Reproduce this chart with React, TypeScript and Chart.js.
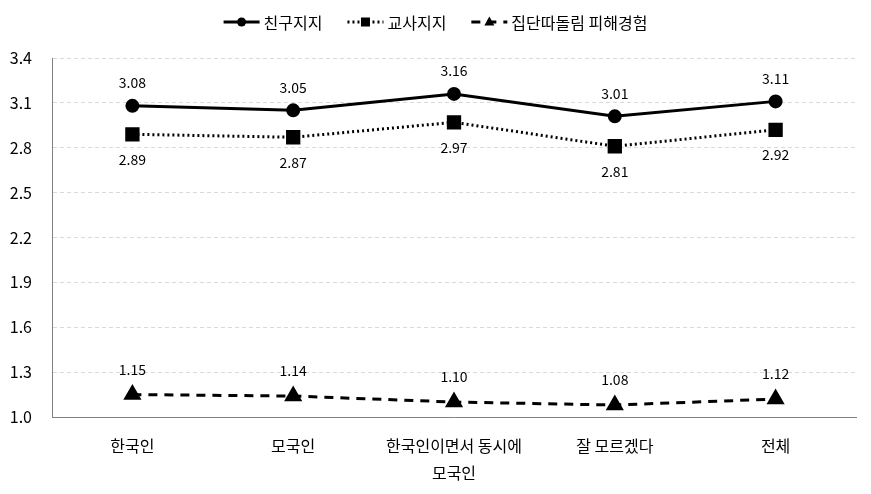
import React, { useEffect, useRef } from "react";
import { Chart, registerables } from "chart.js";

Chart.register(...registerables);

const categories: (string | string[])[] = ["한국인", "모국인", ["한국인이면서 동시에", "모국인"], "잘 모르겠다", "전체"];
const seriesNames = ["친구지지", "교사지지", "집단따돌림 피해경험"];
const friendSupport = [3.08, 3.05, 3.16, 3.01, 3.11];
const teacherSupport = [2.89, 2.87, 2.97, 2.81, 2.92];
const bullying = [1.15, 1.14, 1.1, 1.08, 1.12];
const yMin = 1.0;
const yMax = 3.4;
const yStep = 0.3;

const FONT = '"Noto Sans CJK KR", "Noto Sans", sans-serif';

const labelPlugin = {
  id: "valueLabels",
  afterDatasetsDraw(chart: any) {
    const ctx = chart.ctx;
    ctx.save();
    ctx.font = `14px ${FONT}`;
    ctx.fillStyle = "#000";
    ctx.textAlign = "center";
    ctx.textBaseline = "middle";
    chart.data.datasets.forEach((ds: any, i: number) => {
      const meta = chart.getDatasetMeta(i);
      const off = ds.labelOffset as number;
      meta.data.forEach((pt: any, j: number) => {
        ctx.fillText(Number(ds.data[j]).toFixed(2), pt.x, pt.y + off);
      });
    });
    ctx.restore();
  },
};

function drawMarker(ctx: CanvasRenderingContext2D, style: string, x: number, y: number, r: number) {
  ctx.beginPath();
  if (style === "circle") {
    ctx.arc(x, y, r, 0, Math.PI * 2);
  } else if (style === "rect") {
    ctx.rect(x - r, y - r, 2 * r, 2 * r);
  } else {
    ctx.moveTo(x, y - r * 1.1);
    ctx.lineTo(x + r, y + r * 0.7);
    ctx.lineTo(x - r, y + r * 0.7);
    ctx.closePath();
  }
  ctx.fill();
}

const legendPlugin = {
  id: "customLegend",
  afterDraw(chart: any) {
    const ctx = chart.ctx as CanvasRenderingContext2D;
    ctx.save();
    ctx.font = `16px ${FONT}`;
    const lineLen = 36;
    const gapText = 4;
    const gapItem = 25;
    const items = chart.data.datasets.map((ds: any) => ({
      label: ds.label,
      w: ctx.measureText(ds.label).width,
      ds,
    }));
    const total = items.reduce((s: number, it: any) => s + lineLen + gapText + it.w, 0) + gapItem * (items.length - 1);
    let x = chart.width / 2 - total / 2;
    const y = 22;
    items.forEach((it: any) => {
      const ds = it.ds;
      ctx.strokeStyle = "#000";
      ctx.fillStyle = "#000";
      ctx.lineWidth = ds.borderWidth;
      ctx.setLineDash(ds.borderDash || []);
      ctx.lineCap = ds.borderCapStyle || "butt";
      ctx.beginPath();
      ctx.moveTo(x, y);
      ctx.lineTo(x + lineLen, y);
      ctx.stroke();
      ctx.setLineDash([]);
      drawMarker(ctx, ds.pointStyle, x + lineLen / 2, y, ds.legendMarker);
      ctx.textAlign = "left";
      ctx.textBaseline = "middle";
      ctx.fillText(it.label, x + lineLen + gapText, y + 1);
      x += lineLen + gapText + it.w + gapItem;
    });
    ctx.restore();
  },
};

export default function App() {
  const ref = useRef<HTMLCanvasElement | null>(null);
  useEffect(() => {
    document.body.style.margin = "0";
    const canvas = ref.current!;
    const chart = new Chart(canvas, {
      type: "line",
      data: {
        labels: categories as any,
        datasets: [
          {
            label: seriesNames[0],
            data: friendSupport,
            borderColor: "#000",
            backgroundColor: "#000",
            borderWidth: 3,
            pointStyle: "circle",
            pointRadius: 5.5,
            pointHoverRadius: 5.5,
            tension: 0,
            labelOffset: -23,
            legendMarker: 4.5,
          } as any,
          {
            label: seriesNames[1],
            data: teacherSupport,
            borderColor: "#000",
            backgroundColor: "#000",
            borderWidth: 3,
            borderDash: [2, 3],
            pointStyle: "rect",
            pointRadius: 8,
            pointHoverRadius: 8,
            tension: 0,
            labelOffset: 25,
            legendMarker: 4.5,
          } as any,
          {
            label: seriesNames[2],
            data: bullying,
            borderColor: "#000",
            backgroundColor: "#000",
            borderWidth: 3,
            borderDash: [9, 7],
            pointStyle: "triangle",
            pointRadius: 7.5,
            pointHoverRadius: 7.5,
            tension: 0,
            labelOffset: -25,
            legendMarker: 5,
          } as any,
        ],
      },
      options: {
        animation: false,
        responsive: false,
        events: [],
        layout: { padding: { top: 58, right: 15, left: 0, bottom: 0 } },
        plugins: {
          legend: { display: false },
          tooltip: { enabled: false },
        },
        scales: {
          x: {
            offset: true,
            grid: { display: false, drawTicks: false },
            border: { display: true, color: "#808080", width: 1 },
            ticks: {
              color: "#000",
              font: { family: FONT, size: 16, lineHeight: 1.7 },
              padding: 15,
              maxRotation: 0,
              autoSkip: false,
            },
            afterFit: (s: any) => {
              s.height = 77;
            },
          },
          y: {
            min: yMin,
            max: yMax,
            grid: {
              drawTicks: false,
              color: (c: any) => (Math.abs(c.tick.value - yMin) < 1e-6 ? "rgba(0,0,0,0)" : "#d9d9d9"),
              lineWidth: 1,
            },
            border: { display: true, color: "#808080", width: 1, dash: [4, 3] },
            ticks: {
              stepSize: yStep,
              color: "#000",
              font: { family: FONT, size: 16 },
              padding: 20,
              callback: (v: any) => Number(v).toFixed(1),
            },
            afterFit: (s: any) => {
              s.width = 52;
            },
          },
        },
      } as any,
      plugins: [labelPlugin, legendPlugin],
    });
    return () => chart.destroy();
  }, []);
  return <canvas ref={ref} width={871} height={494} />;
}
